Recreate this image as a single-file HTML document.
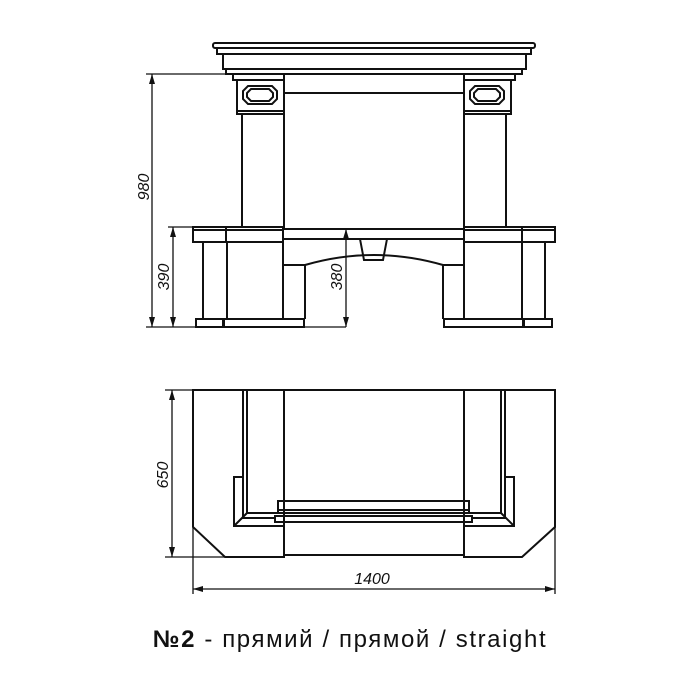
<!DOCTYPE html>
<html><head><meta charset="utf-8"><style>
html,body{margin:0;padding:0;background:#fff;width:700px;height:700px;overflow:hidden}
svg{display:block}
</style></head><body>
<svg width="700" height="700" viewBox="0 0 700 700" xmlns="http://www.w3.org/2000/svg">
<defs>
<marker id="ar" viewBox="0 0 10 10" refX="10" refY="5" markerWidth="10" markerHeight="10" orient="auto-start-reverse" markerUnits="userSpaceOnUse"><path d="M0,2 L10,5 L0,8 z" fill="#111"/></marker>
</defs>
<g fill="none" stroke="#111" stroke-width="2" stroke-linejoin="miter">
<rect x="213" y="43" width="322" height="5" rx="2"/>
<rect x="217" y="48" width="314" height="6"/>
<rect x="223" y="54" width="303" height="15"/>
<rect x="226" y="69" width="296" height="5"/>
<rect x="233" y="74" width="51" height="6"/>
<rect x="237" y="80" width="47" height="31"/>
<rect x="237" y="111" width="47" height="3"/>
<rect x="464" y="74" width="51" height="6"/>
<rect x="464" y="80" width="47" height="31"/>
<rect x="464" y="111" width="47" height="3"/>
<path d="M248,86 L272,86 L277,91 L277,99 L272,104 L248,104 L243,99 L243,91 Z"/>
<path d="M251,89 L269,89 L273,93 L273,97 L269,101 L251,101 L247,97 L247,93 Z"/>
<path d="M475,86 L499,86 L504,91 L504,99 L499,104 L475,104 L470,99 L470,91 Z"/>
<path d="M478,89 L496,89 L500,93 L500,97 L496,101 L478,101 L474,97 L474,93 Z"/>
<rect x="242" y="114" width="42" height="113"/>
<rect x="464" y="114" width="42" height="113"/>
<line x1="284" y1="74" x2="284" y2="229"/>
<line x1="464" y1="74" x2="464" y2="229"/>
<line x1="284" y1="93" x2="464" y2="93"/>
<rect x="193" y="227" width="90" height="15"/>
<line x1="193" y1="230" x2="283" y2="230"/>
<line x1="226" y1="227" x2="226" y2="242"/>
<rect x="464" y="227" width="91" height="15"/>
<line x1="464" y1="230" x2="555" y2="230"/>
<line x1="522" y1="227" x2="522" y2="242"/>
<rect x="283" y="229" width="181" height="10"/>
<path d="M360,239 L364,260 L383,260 L387,239"/>
<line x1="203" y1="242" x2="203" y2="319"/>
<line x1="227" y1="242" x2="227" y2="319"/>
<line x1="283" y1="242" x2="283" y2="319"/>
<line x1="545" y1="242" x2="545" y2="319"/>
<line x1="522" y1="242" x2="522" y2="319"/>
<line x1="464" y1="242" x2="464" y2="319"/>
<path d="M283,265 L305,265 L305,319"/>
<path d="M305,265 Q374,245 443,265"/>
<path d="M464,265 L443,265 L443,319"/>
<rect x="196" y="319" width="27" height="8"/>
<rect x="224" y="319" width="80" height="8"/>
<rect x="444" y="319" width="79" height="8"/>
<rect x="524" y="319" width="28" height="8"/>

<path d="M193,390 L555,390 L555,527 L522,557 L464,557 L464,555 L284,555 L284,557 L225,557 L193,527 Z"/>
<line x1="284" y1="390" x2="284" y2="557"/>
<line x1="464" y1="390" x2="464" y2="557"/>
<path d="M243,390 L243,518 L275,518"/>
<path d="M247,390 L247,513 L284,513"/>
<path d="M243,477 L234,477 L234,526 L284,526"/>
<line x1="247" y1="513" x2="234" y2="526"/>
<path d="M505,390 L505,518 L472,518"/>
<path d="M501,390 L501,513 L464,513"/>
<path d="M505,477 L514,477 L514,526 L464,526"/>
<line x1="501" y1="513" x2="514" y2="526"/>
<rect x="278" y="501" width="191" height="12"/>
<line x1="278" y1="510" x2="469" y2="510"/>
<rect x="275" y="516" width="197" height="6"/>
</g>
<g stroke="#111" stroke-width="1.3" fill="none">
<line x1="146" y1="74" x2="230" y2="74"/>
<line x1="146" y1="327" x2="196" y2="327"/>
<line x1="152" y1="74" x2="152" y2="327" marker-start="url(#ar)" marker-end="url(#ar)"/>
<line x1="168" y1="227" x2="193" y2="227"/>
<line x1="173" y1="227" x2="173" y2="327" marker-start="url(#ar)" marker-end="url(#ar)"/>
<line x1="346" y1="229" x2="346" y2="327" marker-start="url(#ar)" marker-end="url(#ar)"/>
<line x1="304" y1="327" x2="346" y2="327"/>
<line x1="165" y1="390" x2="193" y2="390"/>
<line x1="165" y1="557" x2="225" y2="557"/>
<line x1="172" y1="390" x2="172" y2="557" marker-start="url(#ar)" marker-end="url(#ar)"/>
<line x1="193" y1="527" x2="193" y2="594"/>
<line x1="555" y1="527" x2="555" y2="594"/>
<line x1="193" y1="589" x2="555" y2="589" marker-start="url(#ar)" marker-end="url(#ar)"/>
</g>
<g font-family="'Liberation Sans', sans-serif" font-size="16" font-style="italic" fill="#111" text-anchor="middle">
<text transform="translate(149,187) rotate(-90)">980</text>
<text transform="translate(169,277) rotate(-90)">390</text>
<text transform="translate(342,277) rotate(-90)">380</text>
<text transform="translate(168,475) rotate(-90)">650</text>
<text x="372" y="584">1400</text>
</g>
<text x="350" y="647" text-anchor="middle" font-family="'Liberation Sans', sans-serif" font-size="24" letter-spacing="1.6" fill="#111"><tspan font-weight="bold">№2</tspan> - прямий / прямой / straight</text>
</svg>
</body></html>
